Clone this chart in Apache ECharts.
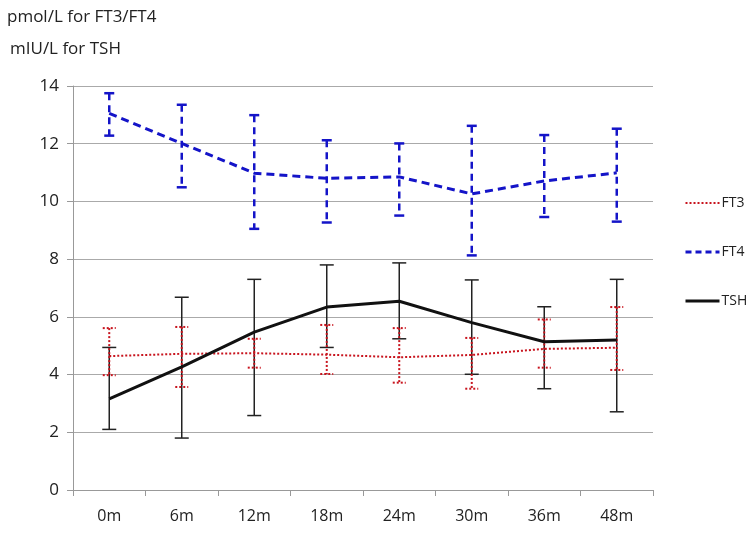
<!DOCTYPE html>
<html>
<head>
<meta charset="utf-8">
<script src="https://cdn.jsdelivr.net/npm/echarts@6/dist/echarts.min.js"></script>
<style>
  html, body { margin: 0; padding: 0; background: #fff; }
  #chart { width: 749px; height: 534px; }
</style>
</head>
<body>
<div id="chart"></div>
<script>
const months = ['0m', '6m', '12m', '18m', '24m', '30m', '36m', '48m']

// means and error bar ends
const ft3Mean = [4.64, 4.72, 4.74, 4.69, 4.60, 4.68, 4.89, 4.93]
const ft3Low  = [3.98, 3.57, 4.24, 4.02, 3.72, 3.51, 4.24, 4.16]
const ft3High = [5.61, 5.65, 5.24, 5.72, 5.61, 5.27, 5.91, 6.34]

const ft4Mean = [13.05, 12.01, 10.98, 10.80, 10.85, 10.26, 10.71, 10.99]
const ft4Low  = [12.28, 10.49, 9.05, 9.27, 9.51, 8.13, 9.46, 9.30]
const ft4High = [13.75, 13.35, 12.99, 12.12, 12.01, 12.62, 12.30, 12.52]

const tshMean = [3.16, 4.27, 5.47, 6.34, 6.54, 5.80, 5.14, 5.20]
const tshLow  = [2.10, 1.80, 2.58, 4.94, 5.24, 4.01, 3.51, 2.71]
const tshHigh = [4.94, 6.68, 7.30, 7.80, 7.87, 7.28, 6.35, 7.30]

const RED = '#c8141e'
const BLUE = '#1414c8'
const BLACK = '#111111'

const chart = echarts.init(document.getElementById('chart'))

// error bar as custom series: vertical line plus two caps
const errorBars = (name, low, high, color, width, dash, capDash, capHalf, z) => ({
  name,
  type: 'custom',
  z,
  silent: true,
  encode: { x: 0, y: [1, 2] },
  data: low.map((lo, i) => [i, lo, high[i]]),
  renderItem: (params, api) => {
    const top = api.coord([api.value(0), api.value(2)])
    const bot = api.coord([api.value(0), api.value(1)])
    const style = { stroke: color, lineWidth: width, lineDash: dash, fill: null }
    const capStyle = { stroke: color, lineWidth: width, lineDash: capDash, fill: null }
    return {
      type: 'group',
      children: [
        { type: 'line', shape: { x1: top[0], y1: top[1], x2: bot[0], y2: bot[1] }, style },
        { type: 'line', shape: { x1: top[0] - capHalf, y1: top[1], x2: top[0] + capHalf, y2: top[1] }, style: capStyle },
        { type: 'line', shape: { x1: bot[0] - capHalf, y1: bot[1], x2: bot[0] + capHalf, y2: bot[1] }, style: capStyle }
      ]
    }
  }
})

const option = {
  backgroundColor: '#fff',
  animation: false,
  textStyle: { fontFamily: 'Open Sans' },
  title: [
    { text: 'pmol/L for FT3/FT4', left: 2, top: 4, textStyle: { fontSize: 17, fontWeight: 'normal', color: '#222', fontFamily: 'Open Sans' } },
    { text: 'mIU/L for TSH', left: 5, top: 36, textStyle: { fontSize: 17, fontWeight: 'normal', color: '#222', fontFamily: 'Open Sans' } }
  ],
  legend: {
    orient: 'vertical',
    left: 679,
    top: 191,
    itemWidth: 34,
    itemHeight: 14,
    itemGap: 35,
    itemStyle: { opacity: 0 },
    textStyle: { fontSize: 14, color: '#222', padding: [0, 0, 0, -3] },
    data: [
      { name: 'FT3', lineStyle: { width: 2, type: [2, 2] } },
      { name: 'FT4', lineStyle: { width: 3, type: [6, 4] } },
      { name: 'TSH', lineStyle: { width: 3 } }
    ]
  },
  grid: { left: 73, right: 96, top: 86, bottom: 44 },
  xAxis: {
    type: 'category',
    data: months,
    boundaryGap: true,
    axisLine: { lineStyle: { color: '#999', width: 1 } },
    axisTick: { show: true, length: 6, lineStyle: { color: '#999' } },
    axisLabel: { fontSize: 16, color: '#222', margin: 18 },
    splitLine: { show: false }
  },
  yAxis: {
    type: 'value',
    min: 0,
    max: 14,
    interval: 2,
    axisLine: { show: true, lineStyle: { color: '#999' } },
    axisTick: { show: true, length: 6, lineStyle: { color: '#999' } },
    axisLabel: { fontSize: 17, color: '#222', margin: 14 },
    splitLine: { lineStyle: { color: '#aaa', width: 1 } }
  },
  series: [
    errorBars('FT4 range', ft4Low, ft4High, BLUE, 2.5, [7, 5], null, 5, 2),
    errorBars('TSH range', tshLow, tshHigh, '#222', 1.5, null, null, 7, 3),
    errorBars('FT3 range', ft3Low, ft3High, RED, 2, [2, 2], [2, 2], 6.5, 4),
    {
      name: 'FT3', type: 'line', data: ft3Mean, symbol: 'none', z: 5,
      lineStyle: { color: RED, width: 2, type: [2, 2] }, itemStyle: { color: RED }
    },
    {
      name: 'FT4', type: 'line', data: ft4Mean, symbol: 'none', z: 5,
      lineStyle: { color: BLUE, width: 3, type: [8, 5] }, itemStyle: { color: BLUE }
    },
    {
      name: 'TSH', type: 'line', data: tshMean, symbol: 'none', z: 6,
      lineStyle: { color: BLACK, width: 3 }, itemStyle: { color: BLACK }
    }
  ]
}

chart.setOption(option)
</script>
</body>
</html>
